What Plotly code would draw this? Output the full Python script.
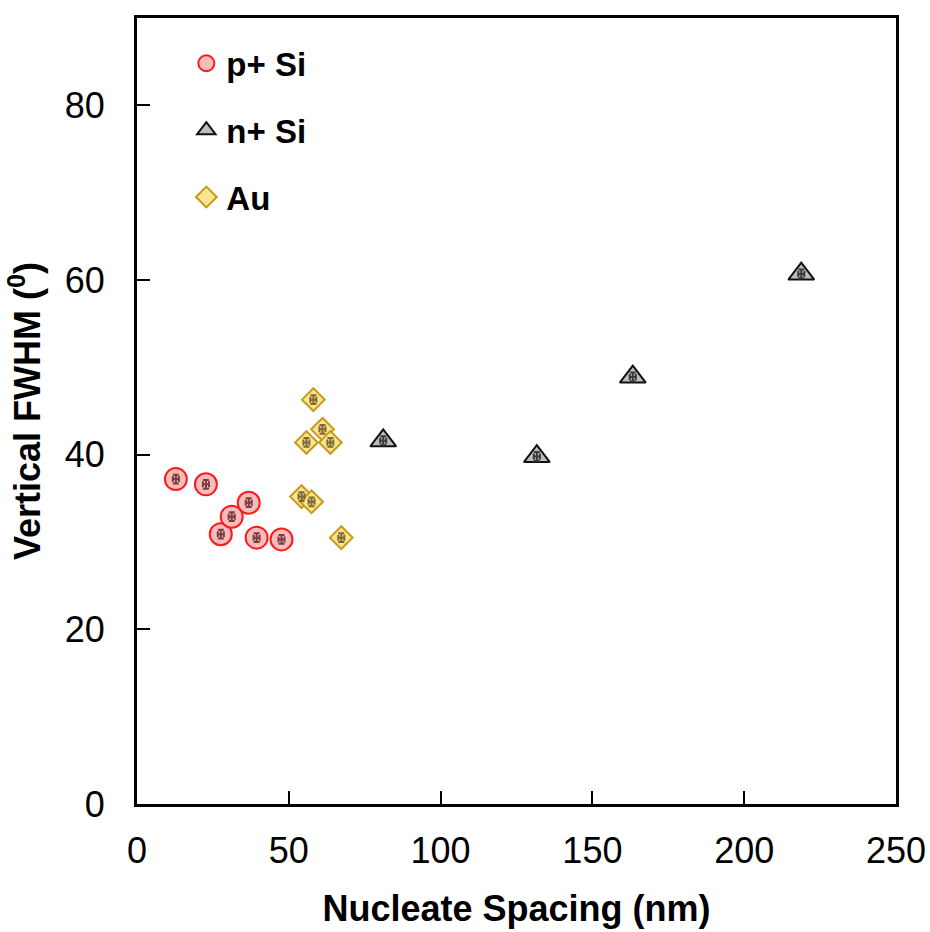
import plotly.graph_objects as go

# Data
p_x = [12.8, 22.7, 27.6, 31.2, 36.8, 39.4, 47.6]
p_y = [37.2, 36.6, 30.9, 32.9, 34.5, 30.5, 30.3]

n_x = [81.1, 131.7, 163.3, 218.8]
n_y = [41.6, 39.8, 48.9, 60.7]

au_x = [58.1, 61.1, 55.8, 63.7, 54.2, 57.5, 67.3]
au_y = [46.3, 42.9, 41.4, 41.4, 35.2, 34.6, 30.5]

err_x = 1.0
err_y = 0.5

x_ticks = [0, 50, 100, 150, 200, 250]
y_ticks = [0, 20, 40, 60, 80]

FONT = "Liberation Sans, Arial, sans-serif"

fig = go.Figure()

series = [
    dict(x=p_x, y=p_y, name="p+ Si", grp="a", symbol="circle", size=22,
         fill="#f9bcbc", edge="#ff1a1a", ecol="#7a3c3c"),
    dict(x=n_x, y=n_y, name="n+ Si", grp="b", symbol="triangle-up", size=22.5,
         fill="#bdbdbd", edge="#111111", ecol="#3a3a3a"),
    dict(x=au_x, y=au_y, name="Au", grp="c", symbol="diamond", size=17.5,
         fill="#fde493", edge="#c79a1a", ecol="#7c6a30"),
]

for s in series:
    fig.add_trace(go.Scatter(
        x=s["x"], y=s["y"], mode="markers", name="<b>" + s["name"] + "</b>",
        legendgroup=s["grp"],
        marker=dict(symbol=s["symbol"], size=s["size"], color=s["fill"],
                    line=dict(color=s["edge"], width=2)),
    ))

# error bars drawn on top of the markers
for s in series:
    fig.add_trace(go.Scatter(
        x=s["x"], y=s["y"], mode="markers", showlegend=False, hoverinfo="skip",
        legendgroup=s["grp"],
        marker=dict(size=1, color="rgba(0,0,0,0)"),
        error_x=dict(type="constant", value=err_x, color=s["ecol"], thickness=2, width=3),
        error_y=dict(type="constant", value=err_y, color=s["ecol"], thickness=2, width=3),
    ))

axis_common = dict(
    showline=True, linecolor="black", linewidth=3, mirror=True,
    ticks="inside", tickcolor="black", tickwidth=2, ticklen=13,
    showgrid=False, zeroline=False, automargin=False,
    tickfont=dict(family=FONT, size=36, color="black"),
)

fig.update_layout(
    width=930, height=932,
    paper_bgcolor="white", plot_bgcolor="white",
    margin=dict(l=137, r=34, t=18, b=128),
    xaxis=dict(range=[0, 250], tickvals=x_ticks, ticklabelstandoff=13,
               title=dict(text="<b>Nucleate Spacing (nm)</b>", standoff=26,
                          font=dict(family=FONT, size=36, color="black")),
               **axis_common),
    yaxis=dict(range=[0, 90], tickvals=y_ticks, ticklabelstandoff=22,
               title=dict(text="<b>Vertical FWHM (<sup>0</sup>)</b>", standoff=14,
                          font=dict(family=FONT, size=36, color="black")),
               **axis_common),
    showlegend=True,
    legend=dict(x=0.065, y=0.978, xanchor="left", yanchor="top",
                bgcolor="rgba(0,0,0,0)", tracegroupgap=21,
                font=dict(family=FONT, size=33, color="black"),
                itemsizing="trace", itemwidth=30),
)

fig.write_html("out.html")
